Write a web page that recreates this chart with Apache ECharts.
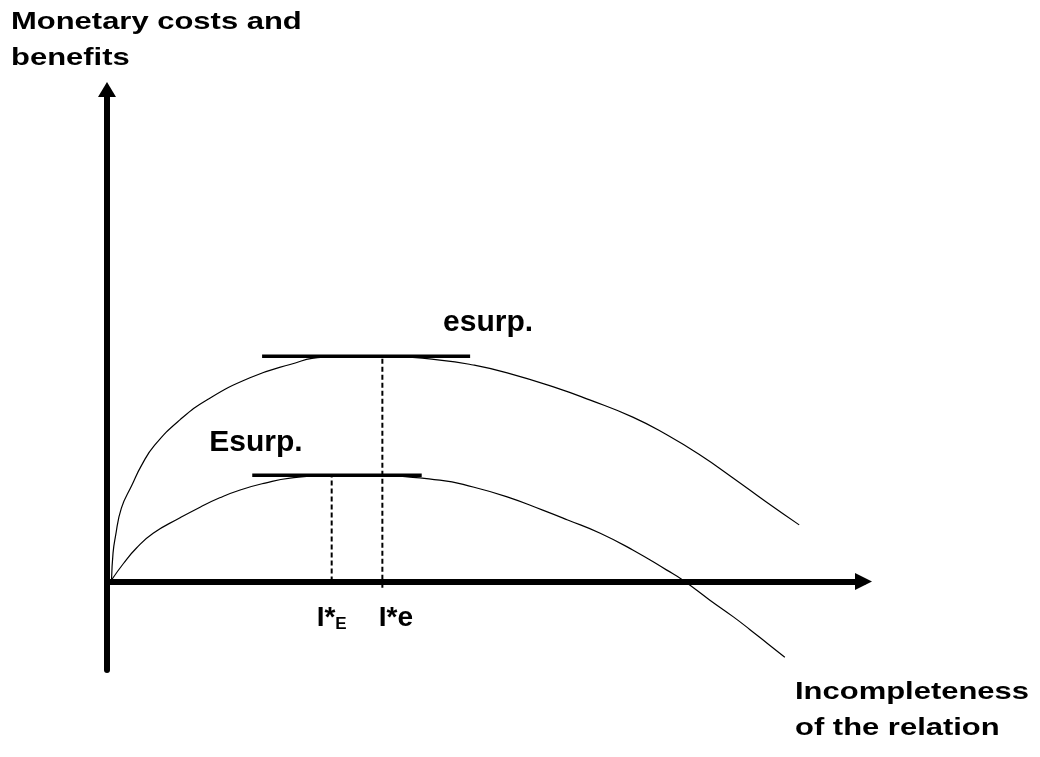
<!DOCTYPE html>
<html>
<head>
<meta charset="utf-8">
<script src="https://cdn.jsdelivr.net/npm/echarts@6/dist/echarts.min.js"></script>
<style>
  html, body { margin: 0; padding: 0; background: #fff; }
  #chart { width: 1040px; height: 757px; }
</style>
</head>
<body>
<div id="chart"></div>
<script>
// surplus curves (x: incompleteness, y: money)
const upperCurve = [
  [0.6, 0.3], [0.8, 5.8], [1.1, 9.0], [1.9, 14.9], [3.3, 19.6], [4.6, 23.7],
  [6.3, 27.7], [9.6, 32.8], [13.2, 36.9], [18.9, 41.4], [24.2, 44.1], [28.6, 45.6],
  [36.4, 45.8], [44.0, 45.0], [48.4, 44.0], [52.9, 42.4], [59.5, 39.3], [63.8, 36.9],
  [69.5, 33.4], [74.0, 29.8], [78.4, 25.7], [82.8, 21.0], [87.2, 16.1], [91.5, 11.5]
]
const lowerCurve = [
  [0.6, 0.3], [2.2, 3.7], [3.9, 6.8], [6.1, 9.8], [9.6, 12.9], [12.3, 15.1],
  [14.9, 17.0], [17.6, 18.6], [20.9, 20.0], [24.2, 21.0], [29.7, 21.6], [35.2, 21.5],
  [44.0, 20.6], [48.4, 19.2], [52.9, 17.2], [57.6, 14.5], [60.9, 12.5], [65.2, 9.8],
  [69.5, 6.4], [74.0, 2.3], [76.1, 0.3], [79.7, -3.8], [82.8, -7.2], [85.0, -9.8],
  [87.3, -12.6], [89.6, -15.4]
]

// optimum points (I*E, I*e) and the maxima
const optima = [29.7, 36.4]
const optimaNames = ['E', 'e']
const maxSurplus = [21.6, 45.8]

// horizontal tangents at the maxima
const tangentLower = [[19.2, 21.6], [41.6, 21.6]]
const tangentUpper = [[20.5, 45.8], [48.0, 45.8]]

// dashed drops from the maxima to the axis
const dropLower = [[optima[0], 0], [optima[0], maxSurplus[0]]]
const dropUpper = [[optima[1], -1.3], [optima[1], maxSurplus[1]]]

const labelFont = '"Liberation Sans", Arial, sans-serif'

const chart = echarts.init(document.getElementById('chart'))

const thinLine = { color: '#000', width: 1.2 }
const thickLine = { color: '#000', width: 3.5 }
const dashLine = { color: '#000', width: 2, type: [5, 3] }

const boldText = { color: '#000', fontWeight: 'bold', fontFamily: labelFont }

// label under the axis at an optimum
function optimumMark(i) {
  return {
    symbol: 'circle',
    symbolSize: 0,
    data: [{ coord: [optima[i], 0] }],
    label: {
      show: true,
      position: 'inside',
      align: 'center',
      verticalAlign: 'top',
      offset: [0, 23],
      formatter: i === 0 ? '{i|I*}{s|' + optimaNames[i] + '}' : '{g|I*' + optimaNames[i] + '}',
      rich: {
        i: Object.assign({ fontSize: 28, verticalAlign: 'bottom' }, boldText),
        s: Object.assign({ fontSize: 17, verticalAlign: 'bottom' }, boldText),
        g: Object.assign({ fontSize: 28, padding: [0, 0, 0, 27] }, boldText)
      }
    }
  }
}

chart.setOption({
  backgroundColor: '#fff',
  animation: false,
  grid: { left: 107, right: 176.5, top: 89.5, bottom: 87 },
  xAxis: {
    type: 'value',
    min: 0,
    max: 100,
    splitLine: { show: false },
    axisTick: { show: false },
    axisLabel: { show: false },
    axisLine: {
      onZero: true,
      symbol: ['none', 'triangle'],
      symbolSize: [17, 17],
      lineStyle: { color: '#000', width: 6 }
    }
  },
  yAxis: {
    type: 'value',
    min: -18,
    max: 100,
    splitLine: { show: false },
    axisTick: { show: false },
    axisLabel: { show: false },
    axisLine: {
      show: true,
      onZero: false,
      symbol: ['none', 'triangle'],
      symbolSize: [18, 15],
      lineStyle: { color: '#000', width: 6 }
    }
  },
  graphic: [
    {
      type: 'text', x: 11, y: 4, scaleX: 1.29,
      style: { text: 'Monetary costs and\nbenefits', fontSize: 24, fontWeight: 'bold', fontFamily: labelFont, lineHeight: 36, fill: '#000' }
    },
    {
      type: 'text', x: 795, y: 674, scaleX: 1.29,
      style: { text: 'Incompleteness\nof the relation', fontSize: 24, fontWeight: 'bold', fontFamily: labelFont, lineHeight: 36, fill: '#000' }
    }
  ],
  series: [
    { type: 'line', data: upperCurve, smooth: 0.5, showSymbol: false, lineStyle: thinLine, z: 3 },
    { type: 'line', data: lowerCurve, smooth: 0.5, showSymbol: false, lineStyle: thinLine, z: 3 },
    {
      type: 'line', data: tangentUpper, showSymbol: false, lineStyle: thickLine, z: 4,
      markPoint: {
        symbol: 'circle', symbolSize: 0,
        data: [{ coord: tangentUpper[1], value: 'esurp.' }],
        label: Object.assign({
          show: true, position: 'inside', align: 'left', verticalAlign: 'middle', offset: [-27, -33],
          formatter: '{c}', fontSize: 30
        }, boldText)
      }
    },
    {
      type: 'line', data: tangentLower, showSymbol: false, lineStyle: thickLine, z: 4,
      markPoint: {
        symbol: 'circle', symbolSize: 0,
        data: [{ coord: tangentLower[0], value: 'Esurp.' }],
        label: Object.assign({
          show: true, position: 'inside', align: 'left', verticalAlign: 'middle', offset: [-43, -32],
          formatter: '{c}', fontSize: 30
        }, boldText)
      }
    },
    { type: 'line', data: dropUpper, showSymbol: false, lineStyle: dashLine, z: 2, markPoint: optimumMark(1) },
    { type: 'line', data: dropLower, showSymbol: false, lineStyle: dashLine, z: 2, markPoint: optimumMark(0) }
  ]
})
</script>
</body>
</html>
